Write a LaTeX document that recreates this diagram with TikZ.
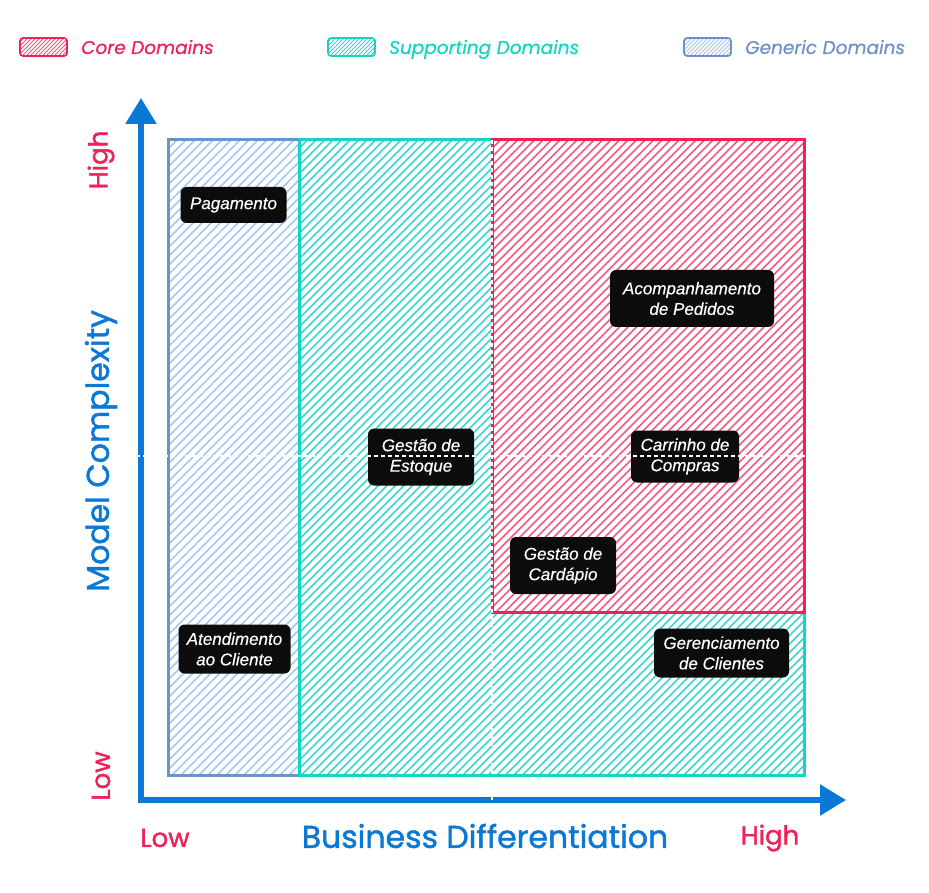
\documentclass[tikz,border=0pt]{standalone}
\usepackage{fontspec}
\setmainfont{Liberation Sans}[ItalicFeatures={FakeBold=0.4}]
\newfontfamily\axisfont{Poppins}[UprightFeatures={FakeBold=1.4}]
\newfontfamily\legendfont{Poppins}[ItalicFeatures={FakeBold=0.6}]
\usetikzlibrary{arrows.meta}

\definecolor{axisblue}{HTML}{0A78D6}
\definecolor{corered}{HTML}{EE2258}
\definecolor{corehatch}{HTML}{F25A80}
\definecolor{supteal}{HTML}{14D4C4}
\definecolor{suphatch}{HTML}{3CD6CA}
\definecolor{genblue}{HTML}{6E92C6}
\definecolor{genhatch}{HTML}{A6C6F2}
\definecolor{tagbg}{HTML}{0C0C0C}

% diagonal hatching: #1 style, #2 step, #3 xmin, #4 xmax, #5 bottom y, #6 top y
\newcommand{\hatchlines}[6]{%
  \pgfmathsetmacro{\hh}{#5-#6}%
  \pgfmathsetmacro{\ks}{#3-\hh}%
  \pgfmathsetmacro{\kn}{\ks+#2}%
  \foreach \k in {\ks,\kn,...,#4} \draw[#1] (\k,#5) -- ++(\hh,-\hh);}

\tikzset{
  tag/.style={fill=tagbg, text=white, rounded corners=6pt, inner sep=0pt,
    font=\itshape\fontsize{17}{20.5}\selectfont, align=center},
  legendtext/.style={anchor=base west, inner sep=0pt, font=\legendfont\itshape\fontsize{18.5}{18.5}\selectfont},
  axistitle/.style={text=axisblue, inner sep=0pt, font=\axisfont\fontsize{31.5}{31.5}\selectfont},
  levellabel/.style={text=corered, inner sep=0pt, font=\axisfont\fontsize{26}{26}\selectfont},
  midline/.style={white, line width=1.6pt, dash pattern=on 4pt off 3pt},
  areaborder/.style={line width=3pt},
}

\begin{document}
\begin{tikzpicture}[x=1pt,y=-1pt]
\useasboundingbox (0,0) rectangle (929,893);

% supporting domains area
\begin{scope}
  \clip (299,140) rectangle (804,775);
  \hatchlines{suphatch, line width=1.5pt}{8.5}{299}{804}{775}{140}
\end{scope}
% generic domains area
\begin{scope}
  \clip (168,140) rectangle (299,775);
  \hatchlines{genhatch, line width=1.5pt}{9}{168}{299}{775}{140}
\end{scope}
% core domains area
\begin{scope}
  \clip (492,140) rectangle (804,612);
  \fill[white] (492,140) rectangle (804,612);
  \hatchlines{corehatch, line width=1.5pt}{8.5}{492}{804}{612}{140}
\end{scope}

\draw[genblue, areaborder] (168,140) rectangle (299,775);
\draw[supteal, areaborder] (299,140) rectangle (804,775);
\draw[corered, areaborder] (492,140) rectangle (804,612);

% legend
\begin{scope}
  \clip[rounded corners=3pt] (20,38) rectangle (67,56);
  \hatchlines{corehatch, line width=0.8pt}{4}{20}{67}{56}{38}
\end{scope}
\draw[corered, line width=1.6pt, rounded corners=3pt] (20,38) rectangle (67,56);
\node[legendtext, text=corered] (lcore) at (81,54) {Core Domains};

\begin{scope}
  \clip[rounded corners=3pt] (328,38) rectangle (375,56);
  \hatchlines{suphatch, line width=0.8pt}{4}{328}{375}{56}{38}
\end{scope}
\draw[supteal, line width=1.6pt, rounded corners=3pt] (328,38) rectangle (375,56);
\node[legendtext, text=supteal] (lsup) at (389,54) {Supporting Domains};

\begin{scope}
  \clip[rounded corners=3pt] (684,38) rectangle (731,56);
  \hatchlines{genhatch, line width=0.8pt}{4}{684}{731}{56}{38}
\end{scope}
\draw[genblue, line width=1.6pt, rounded corners=3pt] (684,38) rectangle (731,56);
\node[legendtext, text=genblue] (lgen) at (745,54) {Generic Domains};

% domain tags
\node[tag, minimum width=106pt, minimum height=36pt] (pag) at (233.5,205) {Pagamento};
\node[tag, minimum width=164pt, minimum height=57pt] (acomp) at (692,298.5) {Acompanhamento\\de Pedidos};
\node[tag, minimum width=106pt, minimum height=57pt] (estoque) at (421,457) {Gestão de\\Estoque};
\node[tag, minimum width=108pt, minimum height=52pt] (carrinho) at (685,456.5) {Carrinho de\\Compras};
\node[tag, minimum width=106pt, minimum height=57pt] (cardapio) at (563,565.5) {Gestão de\\Cardápio};
\node[tag, minimum width=112pt, minimum height=49pt] (atend) at (234.5,649) {Atendimento\\ao Cliente};
\node[tag, minimum width=135pt, minimum height=49pt] (gerenc) at (721.5,653) {Gerenciamento\\de Clientes};

% quadrant separators
\coordinate (hL) at (136,456);
\coordinate (hR) at (806,456);
\coordinate (vT) at (492,140);
\coordinate (vB) at (492,804);
\draw[midline] (hL) -- (hR);
\draw[midline] (vT) -- (vB);

% axes
\coordinate (O) at (141,800);
\coordinate (yT) at (141,98);
\coordinate (xT) at (846,800);
\draw[axisblue, line width=5.5pt,
  {Triangle[length=26pt,width=30pt]}-{Triangle[length=26pt,width=30pt]}] (yT) -- (O) -- (xT);
\draw[midline] (136,456) -- (146,456);
\draw[midline] (492,796) -- (492,804);

% axis labels
\node[axistitle] (xtitle) at (485,836) {Business Differentiation};
\node[axistitle, rotate=90] (ytitle) at (101,451) {Model Complexity};
\node[levellabel] (xlow) at (165,838) {Low};
\node[levellabel] (xhigh) at (770,838) {High};
\node[levellabel, rotate=90] (ylow) at (101,776) {Low};
\node[levellabel, rotate=90] (yhigh) at (101,160) {High};
\end{tikzpicture}
\end{document}
